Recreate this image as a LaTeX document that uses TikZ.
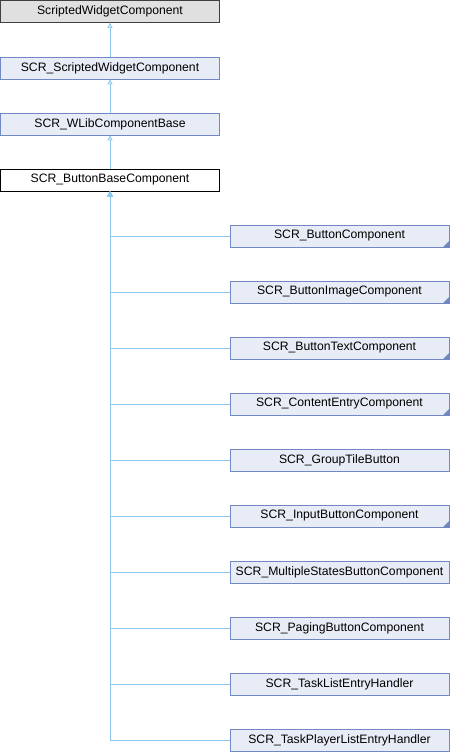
\documentclass[tikz,border=0pt]{standalone}
\usepackage{fontspec}
\setmainfont{Liberation Sans}
\usetikzlibrary{arrows.meta}
\definecolor{boxfill}{HTML}{E8ECF6}
\definecolor{boxline}{HTML}{7088C4}
\definecolor{greyfill}{HTML}{E0E0E0}
\definecolor{edgecol}{HTML}{8CC6EA}
\tikzset{
  cls/.style={draw=boxline, fill=boxfill, line width=0.9pt, minimum width=219pt, minimum height=22pt, inner sep=0pt, font=\fontsize{12.2pt}{14pt}\selectfont},
  rootcls/.style={cls, draw=black!75, fill=greyfill},
  curcls/.style={cls, draw=black, fill=white},
  more/.style={path picture={\fill[boxline] (path picture bounding box.south east) -- ++(-6pt,0) -- ++(6pt,6pt) -- cycle;}},
  inh/.style={draw=edgecol, line width=0.9pt, -{Triangle[open,length=5pt,width=5pt]}}
}
\begin{document}
\begin{tikzpicture}[x=1pt,y=-1pt]
\useasboundingbox (0,0) rectangle (450,752);
\node[rootcls] (a) at (110,11.5) {ScriptedWidgetComponent};
\node[cls] (b) at (110,68) {SCR\_ScriptedWidgetComponent};
\node[cls] (c) at (110,124) {SCR\_WLibComponentBase};
\node[curcls] (d) at (110,180) {SCR\_ButtonBaseComponent};
\node[cls,more] (c1) at (339.5,236) {SCR\_ButtonComponent};
\node[cls,more] (c2) at (339.5,292) {SCR\_ButtonImageComponent};
\node[cls,more] (c3) at (339.5,348) {SCR\_ButtonTextComponent};
\node[cls,more] (c4) at (339.5,404) {SCR\_ContentEntryComponent};
\node[cls] (c5) at (339.5,460) {SCR\_GroupTileButton};
\node[cls,more] (c6) at (339.5,516) {SCR\_InputButtonComponent};
\node[cls] (c7) at (339.5,572) {SCR\_MultipleStatesButtonComponent};
\node[cls] (c8) at (339.5,628) {SCR\_PagingButtonComponent};
\node[cls] (c9) at (339.5,684) {SCR\_TaskListEntryHandler};
\node[cls] (c10) at (339.5,740) {SCR\_TaskPlayerListEntryHandler};
\draw[inh] (b) -- (a);
\draw[inh] (c) -- (b);
\draw[inh] (d) -- (c);
\foreach \n in {c1,c2,c3,c4,c5,c6,c7,c8,c9,c10}{
  \draw[inh] (\n.west) -| (d.south);
}
\end{tikzpicture}
\end{document}
